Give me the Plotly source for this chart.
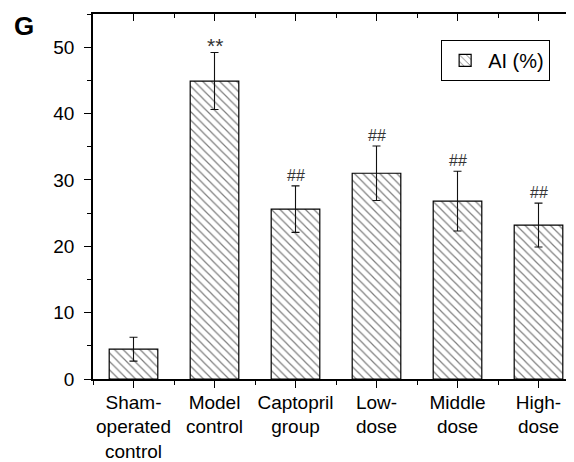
import plotly.graph_objects as go

categories = ["Sham-<br>operated<br>control", "Model<br>control", "Captopril<br>group",
              "Low-<br>dose", "Middle<br>dose", "High-<br>dose"]
ai_values = [4.5, 44.9, 25.6, 31.0, 26.8, 23.2]
ai_errors = [1.8, 4.3, 3.5, 4.1, 4.5, 3.3]
sig_marks = ["", "**", "##", "##", "##", "##"]
y_ticks = [0, 10, 20, 30, 40, 50]

xpos = list(range(len(categories)))
FONT = "Liberation Sans, Arial, sans-serif"

fig = go.Figure()
fig.add_trace(go.Bar(
    x=xpos, y=ai_values, width=0.6, name="AI (%)",
    marker=dict(color="white", line=dict(color="black", width=1.2),
                pattern=dict(shape="\\", fgcolor="black", bgcolor="white", size=6, solidity=0.2)),
    error_y=dict(type="data", array=ai_errors, visible=True, color="#111", thickness=1.1, width=4),
    showlegend=True,
))
# invisible trace on top axis so xaxis2 renders
fig.add_trace(go.Scatter(x=[xpos[0]], y=[ai_values[0]], xaxis="x2", mode="markers",
                         marker=dict(opacity=0), showlegend=False, hoverinfo="skip"))

for xi, v, e, s in zip(xpos, ai_values, ai_errors, sig_marks):
    if s:
        star = "*" in s
        fig.add_annotation(x=xi, y=v + e, text=s, showarrow=False, yanchor="bottom",
                           yshift=-7 if star else 0,
                           font=dict(family=FONT, size=21 if star else 16, color="#333"))

fig.add_annotation(xref="paper", yref="paper", x=-0.141, y=0.967, text="<b>G</b>",
                   showarrow=False, font=dict(family=FONT, size=26, color="black"),
                   xanchor="center", yanchor="middle")

xr = [-0.5, 5.5]
fig.update_layout(
    width=574, height=462,
    margin=dict(l=85, r=1, t=6, b=91),
    plot_bgcolor="white", paper_bgcolor="white",
    font=dict(family=FONT, size=19, color="black"),
    bargap=0.4,
    xaxis=dict(range=xr, tickmode="array", tickvals=xpos, ticktext=categories,
               showline=True, linecolor="black", linewidth=1.5,
               ticks="outside", ticklen=7, tickwidth=1.3, tickcolor="black",
               minor=dict(tick0=0.5, dtick=1, ticks="outside", ticklen=4, tickwidth=1.3, tickcolor="black"),
               showgrid=False, zeroline=False, tickfont=dict(size=19), ticklabelstandoff=-2),
    xaxis2=dict(range=xr, overlaying="x", side="top", tickmode="array", tickvals=xpos,
                showticklabels=False, showline=True, linecolor="black", linewidth=1.5,
                ticks="inside", ticklen=7, tickwidth=1.3, tickcolor="black",
                minor=dict(tick0=0.5, dtick=1, ticks="inside", ticklen=4, tickwidth=1.3, tickcolor="black"),
                showgrid=False, zeroline=False),
    yaxis=dict(range=[0, 55], tickmode="array", tickvals=y_ticks,
               showline=True, linecolor="black", linewidth=1.5, mirror=True,
               ticks="outside", ticklen=7, tickwidth=1.3, tickcolor="black",
               minor=dict(tick0=5, dtick=10, ticks="outside", ticklen=4, tickwidth=1.3, tickcolor="black"),
               showgrid=False, zeroline=False, ticklabelstandoff=6, tickfont=dict(size=19)),
    legend=dict(x=0.9406, y=0.929, xanchor="right", yanchor="top",
                bordercolor="black", borderwidth=1, bgcolor="white", itemwidth=36,
                font=dict(family=FONT, size=20)),
)

fig.write_html("out.html")
